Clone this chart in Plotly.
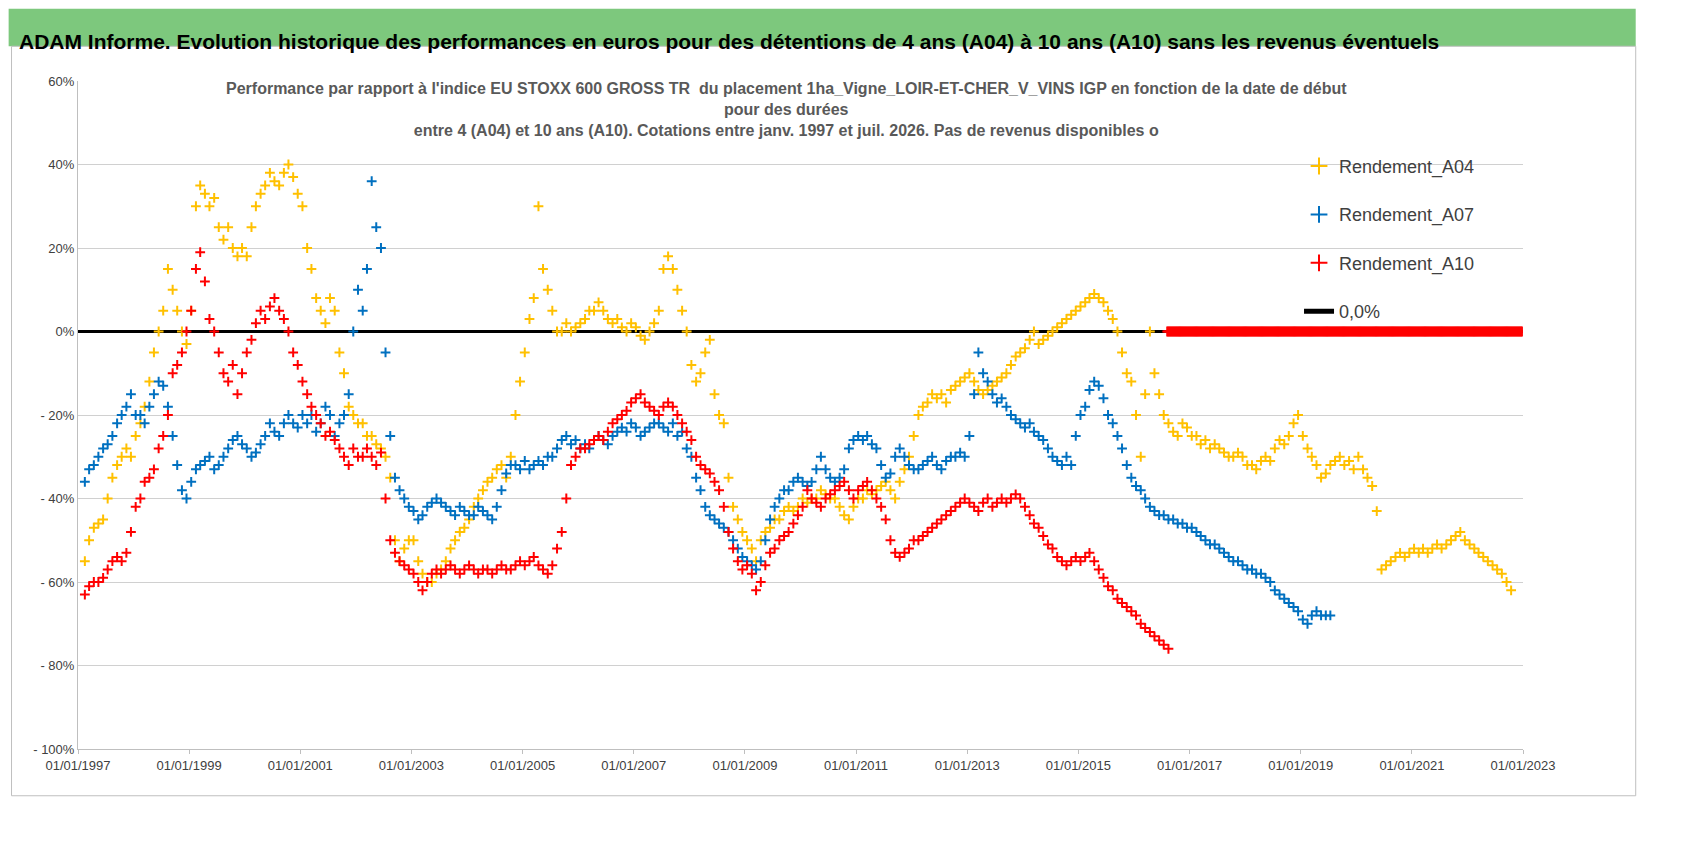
import pandas as pd
import plotly.graph_objects as go

a04_start = "1997-01-15"
a04 = [-55,-50,-47,-46,-45,-40,-35,-32,-30,-28,-30,-25,
 -22,-18,-12,-5,0,5,15,10,5,0,-3,5,
 30,35,33,30,32,25,22,25,20,18,20,18,
 25,30,33,35,38,36,35,38,40,37,33,30,
 20,15,8,5,2,8,5,-5,-10,-18,-20,-22,
 -22,-25,-25,-27,-28,-30,-35,-50,-55,-52,-50,-50,
 -55,-58,-60,-60,-58,-57,-55,-52,-50,-48,-47,-45,
 -42,-40,-38,-36,-35,-33,-32,-35,-30,-20,-12,-5,
 3,8,30,15,10,5,0,0,2,0,1,2,
 3,5,5,7,5,3,2,3,1,0,2,1,
 -1,-2,0,2,5,15,18,15,10,5,0,-8,
 -12,-10,-5,-2,-15,-20,-22,-35,-42,-45,-48,-50,
 -52,-55,-50,-48,-47,-45,-45,-43,-42,-43,-42,-40,
 -41,-40,-40,-38,-39,-40,-40,-42,-44,-45,-42,-40,
 -40,-38,-39,-38,-37,-36,-38,-40,-36,-33,-30,-25,
 -20,-18,-17,-15,-16,-15,-17,-14,-13,-12,-11,-10,
 -12,-14,-15,-14,-13,-12,-11,-10,-8,-6,-5,-4,
 -2,0,-3,-2,-1,0,1,2,3,4,5,6,
 7,8,9,8,7,5,3,0,-5,-10,-12,-20,
 -30,-15,0,-10,-15,-20,-22,-24,-25,-22,-23,-25,
 -25,-27,-26,-28,-27,-28,-29,-30,-30,-29,-30,-32,
 -32,-33,-31,-30,-31,-28,-26,-27,-25,-22,-20,-25,
 -28,-30,-32,-35,-34,-32,-31,-30,-32,-31,-33,-30,
 -33,-35,-37,-43,-57,-56,-55,-54,-53,-54,-53,-52,
 -53,-52,-53,-52,-51,-52,-51,-50,-49,-48,-50,-51,
 -52,-53,-54,-55,-56,-57,-58,-60,-62]

a07_start = "1997-01-15"
a07 = [-36,-33,-32,-30,-28,-27,-25,-22,-20,-18,-15,-20,
 -20,-22,-18,-15,-12,-13,-18,-25,-32,-38,-40,-36,
 -33,-32,-31,-30,-33,-32,-30,-28,-26,-25,-27,-28,
 -30,-29,-27,-25,-22,-24,-25,-22,-20,-22,-23,-20,
 -22,-20,-24,-22,-18,-20,-25,-22,-20,-15,0,10,
 5,15,36,25,20,-5,-25,-35,-38,-40,-42,-43,
 -45,-44,-42,-41,-40,-41,-42,-43,-44,-42,-43,-44,
 -44,-42,-43,-44,-45,-42,-38,-34,-32,-32,-33,-31,
 -33,-32,-31,-32,-30,-30,-28,-26,-25,-27,-26,-28,
 -27,-28,-26,-25,-26,-27,-25,-24,-23,-24,-22,-23,
 -25,-24,-23,-22,-22,-23,-24,-22,-25,-24,-28,-30,
 -35,-38,-42,-44,-45,-46,-47,-48,-50,-52,-54,-55,
 -56,-57,-55,-50,-45,-42,-40,-38,-38,-36,-35,-36,
 -37,-36,-33,-30,-33,-35,-36,-35,-33,-28,-26,-25,
 -26,-25,-27,-28,-32,-35,-34,-30,-28,-30,-32,-33,
 -33,-32,-31,-30,-32,-33,-31,-30,-30,-29,-30,-25,
 -15,-5,-10,-12,-15,-17,-16,-18,-20,-21,-22,-23,
 -22,-24,-25,-26,-28,-30,-31,-32,-30,-32,-25,-20,
 -18,-14,-12,-13,-16,-20,-22,-25,-28,-32,-35,-37,
 -38,-40,-42,-43,-44,-44,-45,-45,-46,-46,-47,-47,
 -48,-49,-50,-51,-51,-52,-53,-54,-55,-55,-56,-57,
 -57,-58,-58,-59,-60,-62,-63,-64,-65,-66,-67,-69,
 -70,-68,-67,-68,-68,-68]

a10_start = "1997-01-15"
a10 = [-63,-61,-60,-60,-59,-57,-55,-54,-55,-53,-48,-42,
 -40,-36,-35,-33,-28,-25,-20,-10,-8,-5,0,5,
 15,19,12,3,0,-5,-10,-12,-8,-15,-10,-5,
 -2,2,5,3,6,8,5,3,0,-5,-8,-12,
 -15,-18,-20,-22,-25,-24,-26,-28,-30,-32,-28,-30,
 -30,-28,-30,-32,-29,-40,-50,-53,-55,-56,-57,-58,
 -60,-62,-60,-58,-57,-58,-57,-56,-57,-58,-57,-56,
 -57,-58,-57,-57,-58,-57,-56,-57,-57,-56,-55,-56,
 -55,-54,-56,-57,-58,-56,-52,-48,-40,-32,-30,-28,
 -28,-27,-26,-25,-26,-24,-22,-21,-20,-19,-17,-16,
 -15,-17,-18,-19,-20,-18,-17,-18,-20,-22,-24,-26,
 -30,-32,-33,-34,-36,-38,-42,-48,-52,-55,-57,-56,
 -58,-62,-60,-56,-53,-52,-50,-49,-48,-46,-44,-42,
 -38,-40,-41,-42,-40,-39,-38,-37,-36,-38,-40,-38,
 -37,-36,-38,-40,-42,-45,-50,-53,-54,-53,-52,-50,
 -50,-49,-48,-47,-46,-45,-44,-43,-42,-41,-40,-41,
 -42,-43,-41,-40,-42,-41,-40,-41,-40,-39,-40,-42,
 -44,-46,-47,-49,-51,-52,-54,-55,-56,-55,-54,-55,
 -54,-53,-55,-57,-59,-61,-62,-64,-65,-66,-67,-68,
 -70,-71,-72,-73,-74,-75,-76]
a10_zero_start = "2016-08-01"
a10_zero_end = "2022-12-31"

zero_line_x = ["1997-01-01", "2023-01-01"]
zero_line_y = [0, 0]

ytick_vals = [0.6, 0.4, 0.2, 0, -0.2, -0.4, -0.6, -0.8, -1.0]
ytick_text = ["60%", "40%", "20%", "0%", "- 20%", "- 40%", "- 60%", "- 80%", "- 100%"]

def monthly(start, vals):
    d = pd.date_range(start, periods=len(vals), freq="MS") + pd.Timedelta(days=14)
    return d, [v / 100 for v in vals]

fig = go.Figure()
mk = dict(symbol="cross-thin", size=7)
fig.add_trace(go.Scatter(x=zero_line_x, y=zero_line_y, mode="lines", name="0,0%",
    legendgroup="z", legendrank=4, line=dict(color="black", width=3)))
x, y = monthly(a04_start, a04)
fig.add_trace(go.Scatter(x=x, y=y, mode="markers", name="Rendement_A04", legendgroup="a", legendrank=1,
    marker=dict(**mk, color="#FFC000", line=dict(width=2, color="#FFC000"))))
x, y = monthly(a07_start, a07)
fig.add_trace(go.Scatter(x=x, y=y, mode="markers", name="Rendement_A07", legendgroup="b", legendrank=2,
    marker=dict(**mk, color="#0070C0", line=dict(width=2, color="#0070C0"))))
x, y = monthly(a10_start, a10)
zx = pd.date_range(a10_zero_start, a10_zero_end, freq="W")
zy = [0] * len(zx)
fig.add_trace(go.Scatter(x=list(x) + list(zx), y=list(y) + zy, mode="markers", name="Rendement_A10",
    legendgroup="c", legendrank=3,
    marker=dict(**mk, color="#FF0000", line=dict(width=2, color="#FF0000"))))

fig.update_layout(
    width=1698, height=856, plot_bgcolor="white", paper_bgcolor="white",
    margin=dict(l=70, r=183, t=73, b=115),
    font=dict(family="Liberation Sans Narrow, Arial Narrow, sans-serif", color="#595959"),
    legend=dict(x=0.845, y=0.9, xanchor="left", yanchor="top", bgcolor="rgba(0,0,0,0)",
                font=dict(size=18, color="#404040"), tracegroupgap=22, itemsizing="constant"),
    xaxis=dict(type="date", range=["1997-01-01", "2023-01-01"], tickformat="%d/%m/%Y",
               tick0="1997-01-01", dtick="M24", showgrid=False, showline=True,
               linecolor="#bfbfbf", ticks="outside", ticklen=4, tickcolor="#bfbfbf",
               tickfont=dict(size=13, color="#404040")),
    yaxis=dict(range=[-1.0, 0.6], tickvals=ytick_vals, ticktext=ytick_text,
               showgrid=True, gridcolor="#d0d0d0", zeroline=False, showline=True,
               linecolor="#bfbfbf", tickfont=dict(size=13, color="#404040")),
    shapes=[
        dict(type="rect", xref="paper", yref="paper", x0=-0.048, x1=1.078, y0=1.052, y1=1.108,
             fillcolor="#7DC87D", line=dict(width=0), layer="below"),
        dict(type="rect", xref="paper", yref="paper", x0=-0.046, x1=1.078, y0=-0.07, y1=1.052,
             fillcolor="rgba(0,0,0,0)", line=dict(width=1, color="#bfbfbf")),
    ],
    annotations=[
        dict(text="<b>ADAM Informe. Evolution historique des performances en euros pour des détentions de 4 ans (A04) à 10 ans (A10) sans les revenus éventuels</b>",
             xref="paper", yref="paper", x=-0.042, xanchor="left", y=1.08, showarrow=False,
             font=dict(size=21, color="black")),
        dict(text="<b>Performance par rapport à l'indice EU STOXX 600 GROSS TR  du placement 1ha_Vigne_LOIR-ET-CHER_V_VINS IGP en fonction de la date de début<br>pour des durées<br>entre 4 (A04) et 10 ans (A10). Cotations entre janv. 1997 et juil. 2026. Pas de revenus disponibles o</b>",
             xref="paper", yref="paper", x=0.49, y=1.005, yanchor="top", showarrow=False,
             font=dict(size=16, color="#595959")),
    ],
)
fig.write_html("out.html")
